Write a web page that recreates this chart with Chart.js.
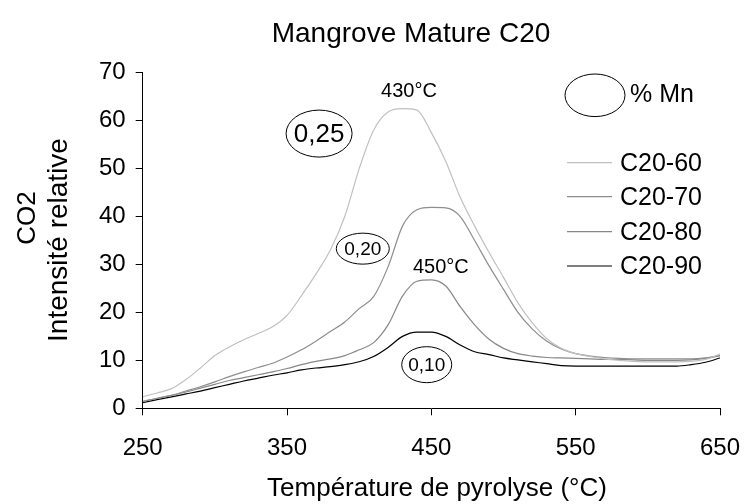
<!DOCTYPE html>
<html><head><meta charset="utf-8">
<script src="https://cdn.jsdelivr.net/npm/chart.js@4/dist/chart.umd.min.js"></script>
<style>html,body{margin:0;padding:0;background:#fff}#wrap{width:748px;height:504px}</style>
</head><body><div id="wrap"><canvas id="c" width="748" height="504"></canvas></div>
<script>
const temperatures = [250,260,270,280,290,300,310,320,330,340,350,360,370,380,390,400,410,420,430,440,450,460,470,480,490,500,510,520,530,540,550,560,570,580,590,600,610,620,630,640,650];
const c20_60 = [2.4,3.2,4.1,6.0,8.4,11.0,12.8,14.3,15.6,17.0,19.4,23.5,28.0,33.0,40.0,50.0,58.0,61.8,62.5,62.2,57.5,51.5,44.0,38.0,32.5,27.3,22.0,17.8,14.5,12.5,11.4,10.8,10.3,10.0,9.8,9.7,9.7,9.7,9.8,10.2,11.3];
const c20_70 = [1.4,2.1,2.7,3.6,4.5,5.5,6.6,7.6,8.5,9.4,10.7,12.2,14.0,16.0,18.0,20.8,23.3,29.5,38.0,41.4,41.9,41.8,40.0,35.0,29.7,24.8,20.0,16.5,14.0,12.4,11.4,10.9,10.6,10.4,10.3,10.3,10.3,10.3,10.3,10.5,11.0];
const c20_80 = [1.4,2.1,2.7,3.4,4.2,5.0,5.8,6.4,7.0,7.6,8.3,9.1,9.8,10.3,11.0,12.2,13.7,17.4,23.4,26.5,26.8,25.5,21.2,17.4,14.4,12.5,11.4,10.9,10.6,10.5,10.4,10.3,10.2,10.2,10.1,10.0,10.0,10.0,10.1,10.4,11.0];
const c20_90 = [1.2,1.8,2.4,3.0,3.6,4.3,5.0,5.7,6.3,6.9,7.4,8.0,8.4,8.7,9.1,9.7,10.8,12.7,15.0,15.9,15.9,15.0,13.2,11.8,11.2,10.5,10.1,9.7,9.3,8.9,8.8,8.8,8.8,8.8,8.8,8.8,8.8,8.8,9.1,9.6,10.5];
const seriesLabels = ['C20-60','C20-70','C20-80','C20-90'];
const xTickValues = [250,350,450,550,650];
const yTickValues = [0,10,20,30,40,50,60,70];
const chartTitle = 'Mangrove Mature C20';
const xTitle = 'Température de pyrolyse (°C)';
const yTitleLines = ['CO2','Intensité relative'];
const mnLegendLabel = '% Mn';
// annotations in data units: [label, temperature, value]
const peakLabels = [['430°C',434.5,66.0],['450°C',456.6,29.4]];
const mnLabels = [['0,25',372.2,57.3],['0,20',402.5,33.3],['0,10',446.8,9.1]];

const FONT = "'Liberation Sans', Arial, sans-serif";
const colors = ['#c0c0c0','#8e8e8e','#888888','#000000'];
const seriesValues = [c20_60,c20_70,c20_80,c20_90];

const datasets = seriesValues.map((vals,i)=>({
  label: seriesLabels[i],
  data: temperatures.map((t,j)=>({x:t,y:vals[j]})),
  borderColor: colors[i],
  borderWidth: 1.2,
  pointRadius: 0,
  cubicInterpolationMode: 'monotone',
  fill: false
}));

const ellipseSizes = {'0,25':[33,23.5,26],'0,20':[26.5,15.5,19],'0,10':[25,18,19]};

const annotPlugin = {
  id:'annot',
  afterDraw(chart){
    const ctx = chart.ctx;
    const xs = chart.scales.x, ys = chart.scales.y;
    ctx.save();
    ctx.fillStyle = '#000';
    ctx.strokeStyle = '#000';
    ctx.lineWidth = 1;
    ctx.textAlign = 'center';
    ctx.textBaseline = 'middle';
    // title
    ctx.font = '28px ' + FONT;
    ctx.fillText(chartTitle, 411, 34);
    // x title
    ctx.font = '26px ' + FONT;
    ctx.fillText(xTitle, 437, 489);
    // y titles
    ctx.save();
    ctx.font = '26px ' + FONT;
    ctx.translate(28, 218); ctx.rotate(-Math.PI/2);
    ctx.fillText(yTitleLines[0], 0, 0);
    ctx.restore();
    ctx.save();
    ctx.font = '28px ' + FONT;
    ctx.translate(59, 240); ctx.rotate(-Math.PI/2);
    ctx.fillText(yTitleLines[1], 0, 0);
    ctx.restore();
    // peak labels
    ctx.font = '20px ' + FONT;
    peakLabels.forEach(([t,x,y])=>{
      ctx.fillText(t, xs.getPixelForValue(x), ys.getPixelForValue(y));
    });
    // Mn labels with ellipses
    mnLabels.forEach(([t,x,y])=>{
      const [rx,ry,fs] = ellipseSizes[t];
      const px = xs.getPixelForValue(x), py = ys.getPixelForValue(y);
      ctx.beginPath(); ctx.ellipse(px,py,rx,ry,0,0,Math.PI*2); ctx.stroke();
      ctx.font = fs + 'px ' + FONT;
      ctx.fillText(t, px, py+1);
    });
    // legend
    ctx.beginPath(); ctx.ellipse(595,95.3,30,21.3,0,0,Math.PI*2); ctx.stroke();
    ctx.textAlign = 'left';
    ctx.font = '25px ' + FONT;
    ctx.fillText(mnLegendLabel, 630, 95);
    const ly = [162.7,196.7,231.7,266];
    chart.data.datasets.forEach((d,i)=>{
      ctx.strokeStyle = d.borderColor; ctx.lineWidth = 1.2;
      ctx.beginPath(); ctx.moveTo(567, ly[i]); ctx.lineTo(612, ly[i]); ctx.stroke();
      ctx.fillStyle = '#000';
      ctx.font = '25px ' + FONT;
      ctx.fillText(d.label, 620, ly[i]+1);
    });
    ctx.restore();
  }
};

new Chart(document.getElementById('c'), {
  type:'line',
  data:{datasets},
  options:{
    responsive:false, animation:false, devicePixelRatio:1,
    layout:{padding:{left:0,right:28,top:72.7,bottom:0}},
    plugins:{legend:{display:false}, title:{display:false}, tooltip:{enabled:false}},
    scales:{
      x:{type:'linear', min:250, max:650,
        afterBuildTicks:(s)=>{s.ticks = xTickValues.map(v=>({value:v}));},
        afterFit:(s)=>{s.height = 95.7; s.paddingLeft = 0; s.paddingRight = 0;},
        ticks:{font:{family:FONT,size:24}, color:'#000', padding:19, maxRotation:0, autoSkip:false},
        grid:{drawOnChartArea:false, drawTicks:true, tickLength:7, color:'#000', lineWidth:1},
        border:{color:'#000', width:1}
      },
      y:{type:'linear', min:0, max:70,
        afterBuildTicks:(s)=>{s.ticks = yTickValues.map(v=>({value:v}));},
        afterFit:(s)=>{s.width = 142.7; s.paddingTop = 0; s.paddingBottom = 0;},
        ticks:{font:{family:FONT,size:24}, color:'#000', padding:10},
        grid:{drawOnChartArea:false, drawTicks:true, tickLength:7, color:'#000', lineWidth:1},
        border:{color:'#000', width:1}
      }
    }
  },
  plugins:[annotPlugin]
});
</script></body></html>
